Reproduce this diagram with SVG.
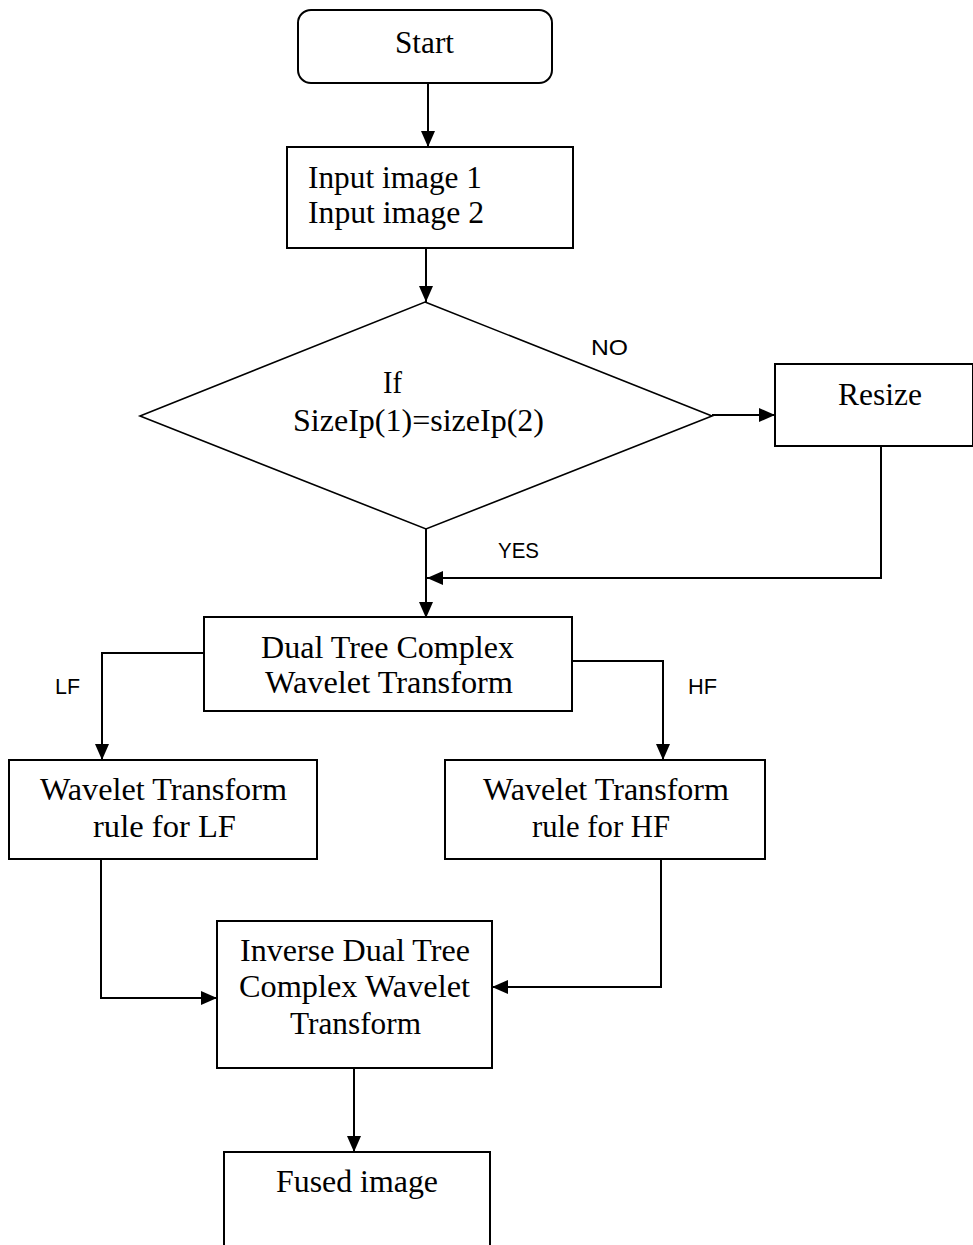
<svg xmlns="http://www.w3.org/2000/svg" width="973" height="1245" viewBox="0 0 973 1245">
<defs>
<style>
.box{fill:#fff;stroke:#000;stroke-width:2}
.dia{fill:#fff;stroke:#000;stroke-width:1.6}
.t{font-family:"Liberation Serif","Times New Roman",serif;font-size:31.5px;fill:#000}
.lbl{font-family:"Liberation Sans",Arial,sans-serif;font-size:22px;fill:#000}
.c{fill:none;stroke:#000;stroke-width:2}
</style>
<marker id="ah" markerUnits="userSpaceOnUse" markerWidth="16" markerHeight="16" viewBox="0 0 16 16" refX="16" refY="8" orient="auto">
<path d="M0,1 L16,8 L0,15 Z" fill="#000"/>
</marker>
</defs>
<rect width="973" height="1245" fill="#fff"/>

<g id="connectors">
<path class="c" d="M428,83 V147" marker-end="url(#ah)"/>
<path class="c" d="M426,248 V302" marker-end="url(#ah)"/>
<path class="c" d="M712,415 H775" marker-end="url(#ah)"/>
<path class="c" d="M881,446 V578 H427" marker-end="url(#ah)"/>
<path class="c" d="M426,529 V618" marker-end="url(#ah)"/>
<path class="c" d="M204,653 H102 V760" marker-end="url(#ah)"/>
<path class="c" d="M572,661 H663 V760" marker-end="url(#ah)"/>
<path class="c" d="M101,859 V998 H217" marker-end="url(#ah)"/>
<path class="c" d="M661,859 V987 H492" marker-end="url(#ah)"/>
<path class="c" d="M354,1068 V1152" marker-end="url(#ah)"/>
<text class="lbl" x="591" y="355" textLength="37" lengthAdjust="spacingAndGlyphs">NO</text>
<text class="lbl" x="498" y="558" textLength="41" lengthAdjust="spacingAndGlyphs">YES</text>
<text class="lbl" x="55" y="694" textLength="25" lengthAdjust="spacingAndGlyphs">LF</text>
<text class="lbl" x="688" y="694" textLength="29" lengthAdjust="spacingAndGlyphs">HF</text>
</g>

<g id="start">
<rect class="box" x="298" y="10" width="254" height="73" rx="13"/>
<text class="t" x="395" y="53" textLength="59" lengthAdjust="spacingAndGlyphs">Start</text>
</g>

<g id="input">
<rect class="box" x="287" y="147" width="286" height="101"/>
<text class="t" x="308" y="188" textLength="174" lengthAdjust="spacingAndGlyphs">Input image 1</text>
<text class="t" x="308" y="223" textLength="176" lengthAdjust="spacingAndGlyphs">Input image 2</text>
</g>

<g id="decision">
<polygon class="dia" points="425,302 712,416 426,529 140,416"/>
<text class="t" x="383" y="393" textLength="19" lengthAdjust="spacingAndGlyphs">If</text>
<text class="t" x="293" y="431" textLength="251" lengthAdjust="spacingAndGlyphs">SizeIp(1)=sizeIp(2)</text>
</g>

<g id="resize">
<rect class="box" x="775" y="364" width="198" height="82"/>
<text class="t" x="838" y="405" textLength="84" lengthAdjust="spacingAndGlyphs">Resize</text>
</g>

<g id="dtcwt">
<rect class="box" x="204" y="617" width="368" height="94"/>
<text class="t" x="261" y="658" textLength="253" lengthAdjust="spacingAndGlyphs">Dual Tree Complex</text>
<text class="t" x="265" y="693" textLength="248" lengthAdjust="spacingAndGlyphs">Wavelet Transform</text>
</g>

<g id="rule-lf">
<rect class="box" x="9" y="760" width="308" height="99"/>
<text class="t" x="40" y="800" textLength="247" lengthAdjust="spacingAndGlyphs">Wavelet Transform</text>
<text class="t" x="93" y="837" textLength="143" lengthAdjust="spacingAndGlyphs">rule for LF</text>
</g>

<g id="rule-hf">
<rect class="box" x="445" y="760" width="320" height="99"/>
<text class="t" x="483" y="800" textLength="246" lengthAdjust="spacingAndGlyphs">Wavelet Transform</text>
<text class="t" x="532" y="837" textLength="138" lengthAdjust="spacingAndGlyphs">rule for HF</text>
</g>

<g id="idtcwt">
<rect class="box" x="217" y="921" width="275" height="147"/>
<text class="t" x="240" y="961" textLength="230" lengthAdjust="spacingAndGlyphs">Inverse Dual Tree</text>
<text class="t" x="239" y="997" textLength="231" lengthAdjust="spacingAndGlyphs">Complex Wavelet</text>
<text class="t" x="290" y="1034" textLength="131" lengthAdjust="spacingAndGlyphs">Transform</text>
</g>

<g id="fused">
<rect class="box" x="224" y="1152" width="266" height="120"/>
<text class="t" x="276" y="1192" textLength="162" lengthAdjust="spacingAndGlyphs">Fused image</text>
</g>
</svg>
